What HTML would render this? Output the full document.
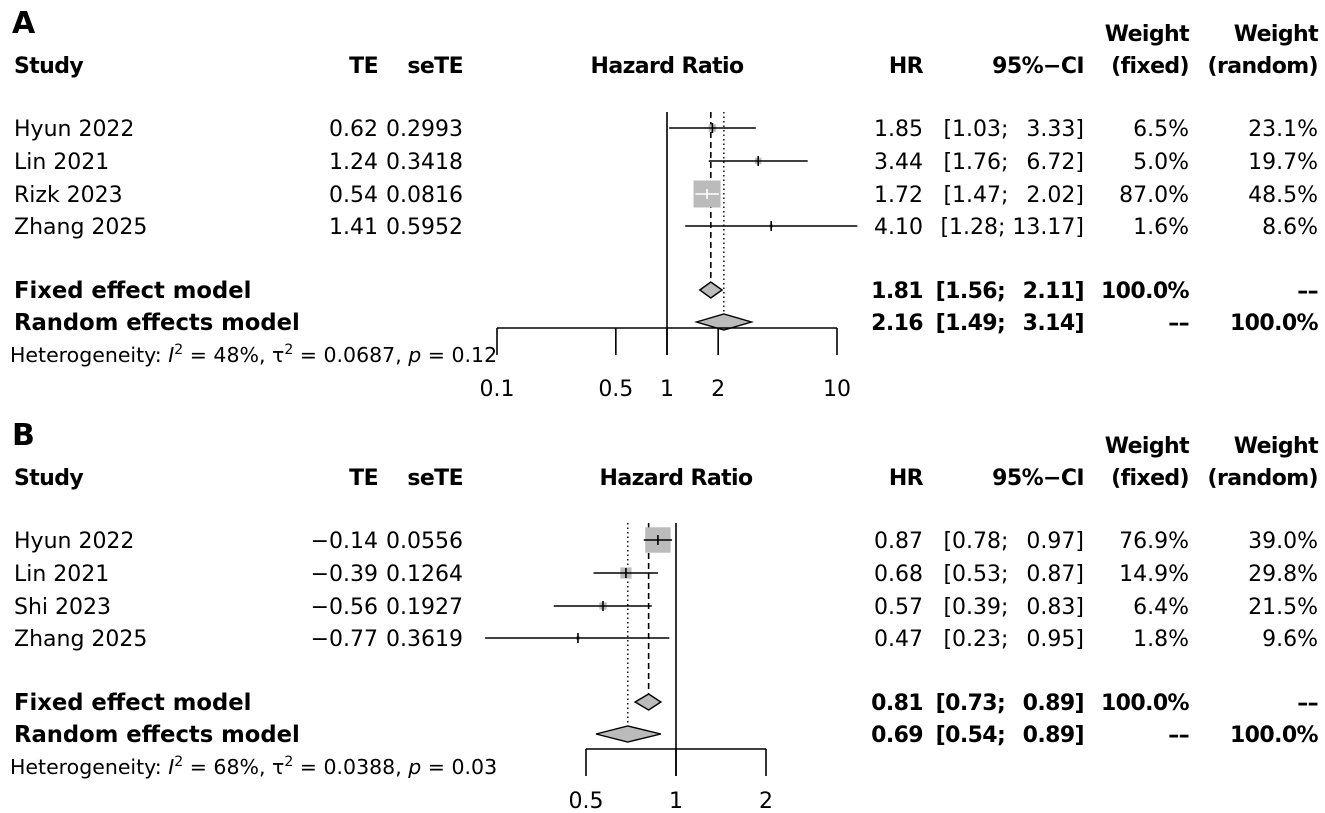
<!DOCTYPE html>
<html><head><meta charset="utf-8"><style>
html,body{margin:0;padding:0;background:#fff;}
svg{display:block;font-family:"DejaVu Sans","Liberation Sans",Arial,sans-serif;}
</style></head><body>
<svg id="fig" width="1325" height="813" viewBox="0 0 1325 813"></svg>
<script>
// Panel A data
const studiesA = ["Hyun 2022","Lin 2021","Rizk 2023","Zhang 2025"];
const teA = ["0.62","1.24","0.54","1.41"];
const seA = ["0.2993","0.3418","0.0816","0.5952"];
const hrA = [1.85,3.44,1.72,4.10];
const loA = [1.03,1.76,1.47,1.28];
const hiA = [3.33,6.72,2.02,13.17];
const wfA = [6.5,5.0,87.0,1.6];
const wrA = [23.1,19.7,48.5,8.6];
const fixedA = [1.81,1.56,2.11];
const randomA = [2.16,1.49,3.14];
const ticksA = [0.1,0.5,1,2,10];
const hetA = ["48%","0.0687","0.12"];
// Panel B data
const studiesB = ["Hyun 2022","Lin 2021","Shi 2023","Zhang 2025"];
const teB = ["\u22120.14","\u22120.39","\u22120.56","\u22120.77"];
const seB = ["0.0556","0.1264","0.1927","0.3619"];
const hrB = [0.87,0.68,0.57,0.47];
const loB = [0.78,0.53,0.39,0.23];
const hiB = [0.97,0.87,0.83,0.95];
const wfB = [76.9,14.9,6.4,1.8];
const wrB = [39.0,29.8,21.5,9.6];
const fixedB = [0.81,0.73,0.89];
const randomB = [0.69,0.54,0.89];
const ticksB = [0.5,1,2];
const hetB = ["68%","0.0388","0.03"];

const svg = document.getElementById('fig');
const NS = "http://www.w3.org/2000/svg";
const FS = 22;
function mk(tag, attrs, name, parent){
  const e = document.createElementNS(NS, tag);
  for (const k in attrs) e.setAttribute(k, attrs[k]);
  
  
  (parent||svg).appendChild(e);
  return e;
}
function txt(x,y,s,opts,name,parent){
  const a = {x:x,y:y,'font-size':opts.size||FS,'text-anchor':opts.anchor||'start','font-weight':opts.bold?'bold':'normal',fill:'#000'};
  if (opts.bold && !opts.size) a['letter-spacing'] = '-0.6';
  const t = mk('text', a, name, parent);
  t.textContent = s;
  return t;
}
function f2(v){return v.toFixed(2);}
function ci(lo,hi){
  const l=f2(lo), h=f2(hi);
  const pad = h.length<5 ? "\u2002" : "";
  return "["+l+"; "+pad+h+"]";
}
function panel(cfg){
  const g = mk('g', {}, 'panel-'+cfg.letter.toLowerCase());
  const o = cfg.oy;
  const X = v => cfg.x1 + cfg.ppd*Math.log10(v);
  txt(12, o+33, cfg.letter, {size:30,bold:true}, 'panel-label', g);
  txt(14, o+73, "Study", {bold:true}, 'header-study', g);
  txt(378, o+73, "TE", {bold:true,anchor:'end'}, 'header-te', g);
  txt(463, o+73, "seTE", {bold:true,anchor:'end'}, 'header-sete', g);
  txt(cfg.htx, o+73, "Hazard Ratio", {bold:true,anchor:'middle'}, 'header-hazard-ratio', g);
  txt(923, o+73, "HR", {bold:true,anchor:'end'}, 'header-hr', g);
  txt(1084, o+73, "95%\u2212CI", {bold:true,anchor:'end'}, 'header-ci', g);
  txt(1189, o+41, "Weight", {bold:true,anchor:'end'}, 'header-weight-fixed', g);
  txt(1189, o+73, "(fixed)", {bold:true,anchor:'end'}, 'header-fixed', g);
  txt(1318, o+41, "Weight", {bold:true,anchor:'end'}, 'header-weight-random', g);
  txt(1318, o+73, "(random)", {bold:true,anchor:'end'}, 'header-random', g);
  const rows = [128,161,194,226].map(v=>v+o);
  const yF = o+290, yR = o+322, yAx = o+328+cfg.axShift;
  mk('line',{x1:X(1),x2:X(1),y1:o+112+cfg.topShift,y2:yAx+27,stroke:'#000','stroke-width':1.6},'null-line',g);
  mk('line',{x1:X(cfg.fixed[0]),x2:X(cfg.fixed[0]),y1:o+112+cfg.topShift,y2:yF-8,stroke:'#000','stroke-width':1.6,'stroke-dasharray':'6,4'},'fixed-effect-line',g);
  mk('line',{x1:X(cfg.random[0]),x2:X(cfg.random[0]),y1:o+112+cfg.topShift,y2:yR-8,stroke:'#000','stroke-width':1.4,'stroke-dasharray':'1.5,3'},'random-effect-line',g);
  for (let i=0;i<cfg.studies.length;i++){
    const y = rows[i];
    txt(14, y+8, cfg.studies[i], {}, 'study-name', g);
    txt(378, y+8, cfg.te[i], {anchor:'end'}, 'te-value', g);
    txt(463, y+8, cfg.se[i], {anchor:'end'}, 'sete-value', g);
    txt(923, y+8, f2(cfg.hr[i]), {anchor:'end'}, 'hr-value', g);
    txt(1084, y+8, ci(cfg.lo[i],cfg.hi[i]), {anchor:'end'}, 'ci-value', g);
    txt(1189, y+8, cfg.wf[i].toFixed(1)+"%", {anchor:'end'}, 'weight-fixed', g);
    txt(1318, y+8, cfg.wr[i].toFixed(1)+"%", {anchor:'end'}, 'weight-random', g);
    const s = 29*Math.sqrt(cfg.wf[i]/100);
    const cx = X(cfg.hr[i]);
    mk('rect',{x:cx-s/2,y:y-s/2,width:s,height:s,fill:'#bbb'},'study-box',g);
    const col = s>20&&cfg.whiteCI?'#fff':'#000';
    mk('line',{x1:X(cfg.lo[i]),x2:X(cfg.hi[i]),y1:y,y2:y,stroke:col,'stroke-width':1.6},'ci-line',g);
    mk('line',{x1:cx,x2:cx,y1:y-5,y2:y+5,stroke:col,'stroke-width':1.6},'point-estimate',g);
  }
  const dia = (m,lo,hi,y,name)=>{
    mk('polygon',{points:`${X(lo)},${y} ${X(m)},${y-8} ${X(hi)},${y} ${X(m)},${y+8}`,fill:'#bbb',stroke:'#000','stroke-width':1.4},name,g);
  };
  dia(cfg.fixed[0],cfg.fixed[1],cfg.fixed[2],yF,'fixed-effect-diamond');
  dia(cfg.random[0],cfg.random[1],cfg.random[2],yR,'random-effect-diamond');
  txt(14, yF+8, "Fixed effect model", {bold:true,size:22.7}, 'fixed-model-label', g);
  txt(14, yR+8, "Random effects model", {bold:true,size:22.7}, 'random-model-label', g);
  txt(923, yF+8, f2(cfg.fixed[0]), {bold:true,anchor:'end'}, 'fixed-hr', g);
  txt(1084, yF+8, ci(cfg.fixed[1],cfg.fixed[2]), {bold:true,anchor:'end'}, 'fixed-ci', g);
  txt(1189, yF+8, "100.0%", {bold:true,anchor:'end'}, 'fixed-weight-fixed', g);
  txt(1318, yF+8, "\u2013\u2013", {bold:true,anchor:'end'}, 'fixed-weight-random', g);
  txt(923, yR+8, f2(cfg.random[0]), {bold:true,anchor:'end'}, 'random-hr', g);
  txt(1084, yR+8, ci(cfg.random[1],cfg.random[2]), {bold:true,anchor:'end'}, 'random-ci', g);
  txt(1189, yR+8, "\u2013\u2013", {bold:true,anchor:'end'}, 'random-weight-fixed', g);
  txt(1318, yR+8, "100.0%", {bold:true,anchor:'end'}, 'random-weight-random', g);
  const h = mk('text',{x:10,y:o+362,'font-size':20.5,fill:'#000'},'heterogeneity-text',g);
  h.innerHTML = `Heterogeneity: <tspan font-style="italic">I</tspan><tspan dy="-8" font-size="14">2</tspan><tspan dy="8"> = ${cfg.het[0]}, \u03c4</tspan><tspan dy="-8" font-size="14">2</tspan><tspan dy="8"> = ${cfg.het[1]}, </tspan><tspan font-style="italic">p</tspan> = ${cfg.het[2]}`;
  const t0 = cfg.ticks[0], t1 = cfg.ticks[cfg.ticks.length-1];
  mk('line',{x1:X(t0),x2:X(t1),y1:yAx,y2:yAx,stroke:'#000','stroke-width':1.6},'x-axis',g);
  cfg.ticks.forEach(t=>{
    mk('line',{x1:X(t),x2:X(t),y1:yAx,y2:yAx+27,stroke:'#000','stroke-width':1.6},'x-tick',g);
    txt(X(t), yAx+cfg.lblOff, String(t), {anchor:'middle'}, 'x-tick-label', g);
  });
}
panel({letter:"A",oy:0,x1:667,ppd:170,htx:667,axShift:0,topShift:0,whiteCI:true,lblOff:68,
  studies:studiesA,te:teA,se:seA,hr:hrA,lo:loA,hi:hiA,wf:wfA,wr:wrA,fixed:fixedA,random:randomA,ticks:ticksA,het:hetA});
panel({letter:"B",oy:412,x1:676,ppd:299,htx:676,axShift:9,topShift:-1,whiteCI:false,lblOff:59,
  studies:studiesB,te:teB,se:seB,hr:hrB,lo:loB,hi:hiB,wf:wfB,wr:wrB,fixed:fixedB,random:randomB,ticks:ticksB,het:hetB});
</script>
</body></html>
